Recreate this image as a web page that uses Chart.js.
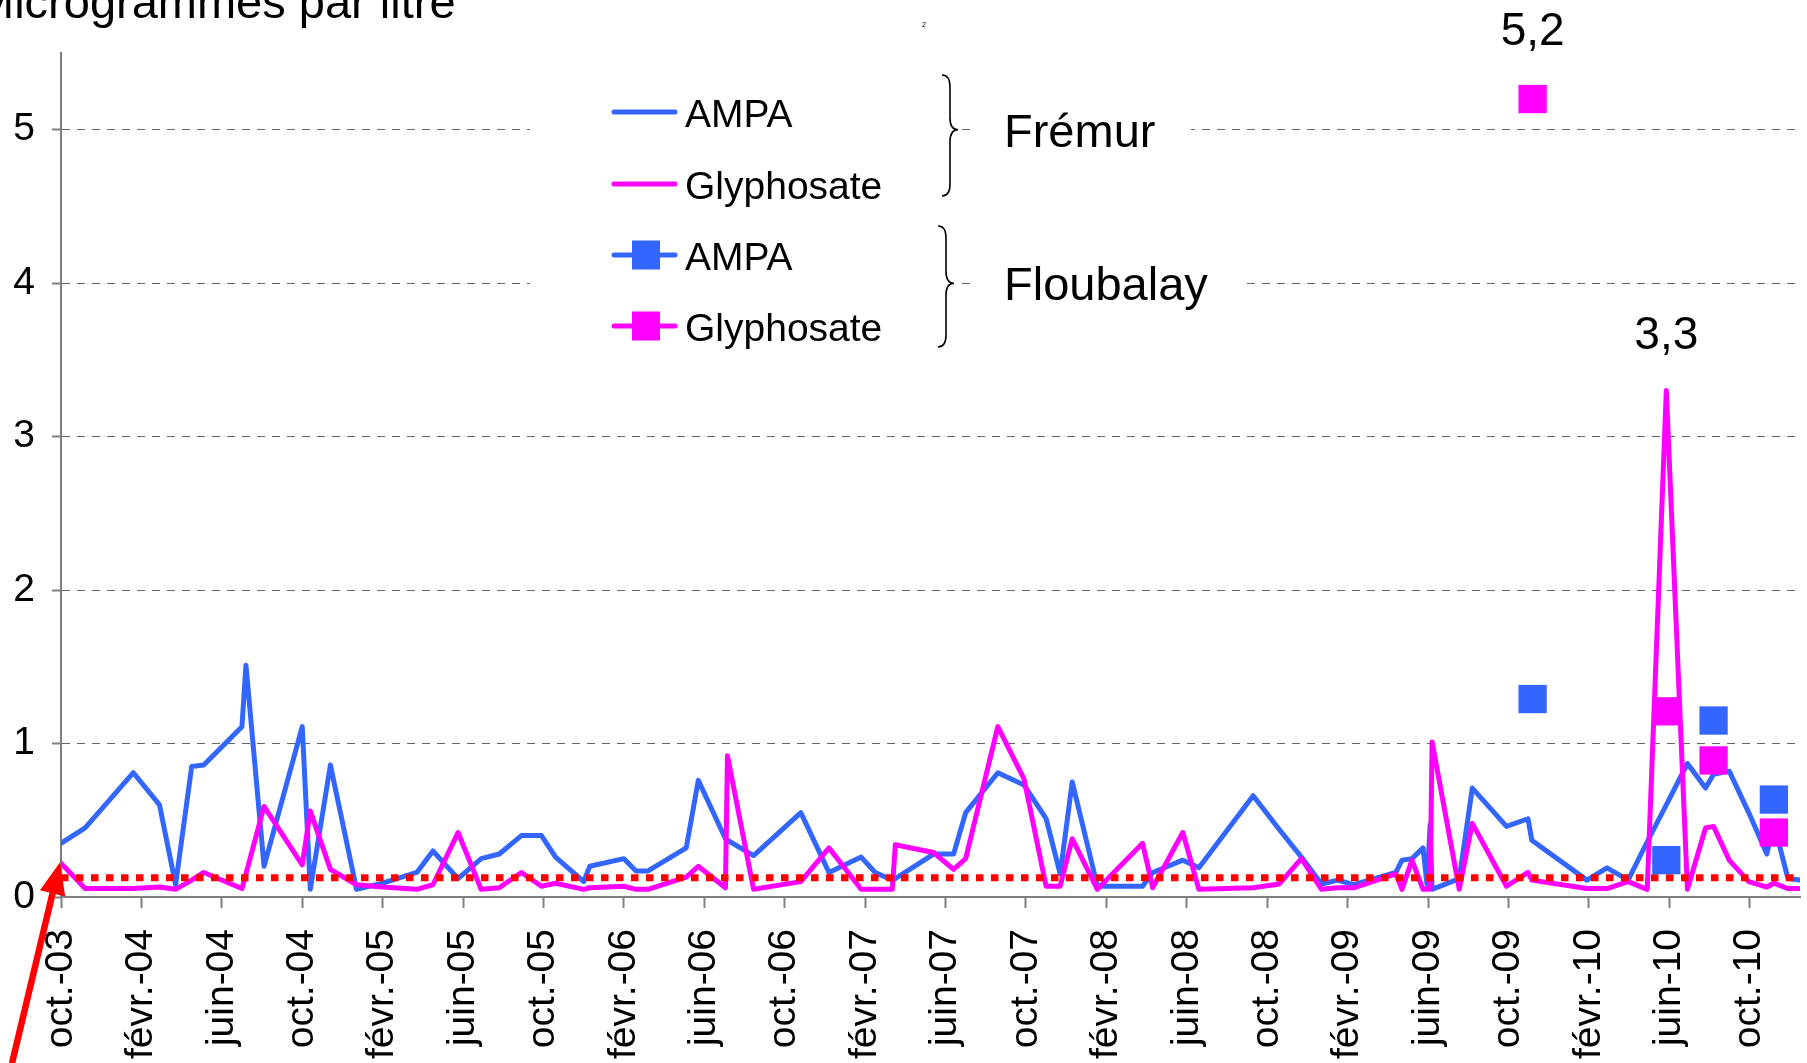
<!DOCTYPE html>
<html lang="fr">
<head>
<meta charset="UTF-8">
<title>AMPA et glyphosate - Frémur et Floubalay</title>
<script src="https://cdn.jsdelivr.net/npm/chart.js"></script>
<style>
  body { margin: 0; background: #fff; }
  canvas { display: block; }
</style>
</head>
<body>
<canvas id="graphique" width="1807" height="1063"></canvas>
<script>
// x = mois écoulés depuis le 1er octobre 2003
const tickLabels = ['oct.-03', 'févr.-04', 'juin-04', 'oct.-04', 'févr.-05', 'juin-05', 'oct.-05',
  'févr.-06', 'juin-06', 'oct.-06', 'févr.-07', 'juin-07', 'oct.-07', 'févr.-08', 'juin-08',
  'oct.-08', 'févr.-09', 'juin-09', 'oct.-09', 'févr.-10', 'juin-10', 'oct.-10'];
const yTicks = [0, 1, 2, 3, 4, 5];

const fremurMois = [0, 1.2, 3.6, 4.9, 5.7, 6.5, 7.1, 9.0, 9.2, 10.1, 12.0, 12.4, 13.4, 14.7, 16.0,
  17.7, 18.5, 19.75, 20.9, 21.8, 22.9, 23.9, 24.6, 26.0, 26.3, 28.0, 28.6, 29.2, 31.1, 31.7,
  33.05, 33.15, 34.45, 36.8, 38.2, 39.8, 40.5, 41.35, 41.5, 43.4, 44.4, 45.0, 46.6, 47.9, 49.0,
  49.7, 50.3, 51.55, 53.8, 54.3, 55.8, 56.6, 59.3, 60.6, 61.7, 62.7, 63.5, 64.3, 66.4, 66.7,
  67.2, 67.75, 67.95, 68.1, 68.2, 69.55, 70.2, 71.9, 72.97, 73.16, 75.9, 76.9, 77.95, 78.9,
  79.85, 80.9, 81.8, 82.2, 82.98, 83.95, 84.85, 85.2, 85.9, 86.5];
const fremurAmpa = [0.35, 0.45, 0.81, 0.60, 0.08, 0.85, 0.86, 1.11, 1.51, 0.20, 1.11, 0.05, 0.86, 0.05, 0.09,
  0.16, 0.30, 0.12, 0.25, 0.28, 0.40, 0.40, 0.26, 0.10, 0.20, 0.25, 0.17, 0.17, 0.32, 0.76,
  0.38, 0.37, 0.27, 0.55, 0.16, 0.26, 0.16, 0.11, 0.12, 0.28, 0.28, 0.55, 0.81, 0.73, 0.51,
  0.15, 0.75, 0.07, 0.07, 0.16, 0.24, 0.19, 0.66, 0.44, 0.26, 0.085, 0.11, 0.08, 0.16, 0.24,
  0.25, 0.32, 0.08, 0.47, 0.05, 0.12, 0.71, 0.46, 0.51, 0.37, 0.11, 0.19, 0.11, 0.36,
  0.60, 0.87, 0.71, 0.80, 0.82, 0.55, 0.28, 0.48, 0.12, 0.11];
const fremurGlyphosate = [0.22, 0.055, 0.055, 0.065, 0.05, 0.11, 0.16, 0.055, 0.15, 0.59, 0.21, 0.56, 0.18, 0.08, 0.065,
  0.05, 0.08, 0.42, 0.05, 0.06, 0.16, 0.07, 0.09, 0.05, 0.06, 0.07, 0.05, 0.05, 0.13, 0.20,
  0.06, 0.92, 0.05, 0.10, 0.32, 0.05, 0.05, 0.05, 0.34, 0.29, 0.18, 0.25, 1.11, 0.77, 0.07,
  0.07, 0.38, 0.05, 0.35, 0.06, 0.42, 0.05, 0.06, 0.085, 0.25, 0.05, 0.06, 0.06, 0.15, 0.05,
  0.24, 0.05, 0.05, 0.05, 1.01, 0.05, 0.48, 0.07, 0.16, 0.11, 0.055, 0.055, 0.10, 0.05,
  3.30, 0.05, 0.45, 0.46, 0.24, 0.10, 0.065, 0.09, 0.055, 0.055];

const floubalayMois = [73.2, 79.85, 82.2, 85.2];
const floubalayAmpa = [1.29, 0.24, 1.15, 0.635];
const floubalayGlyphosate = [5.2, 1.21, 0.89, 0.42];

const seuilMois = [0, 86.5];
const seuilValeurs = [0.125, 0.125];

const BLEU = '#3366ff';
const MAGENTA = '#ff00ff';
const ROUGE = '#ff0000';
const police = '"Liberation Sans", Arial, sans-serif';

function points(xs, ys) {
  return xs.map((x, i) => ({ x: x, y: ys[i] }));
}

function texte(ctx, t, x, y, taille, align) {
  ctx.font = taille + 'px ' + police;
  ctx.textAlign = align || 'left';
  ctx.textBaseline = 'alphabetic';
  ctx.fillStyle = '#000';
  ctx.fillText(t, x, y);
}

function accolade(ctx, x, haut, bas, pointe) {
  const w = 16, r = 12, xm = x + w / 2;
  ctx.beginPath();
  ctx.moveTo(x, haut);
  ctx.quadraticCurveTo(xm, haut, xm, haut + r);
  ctx.lineTo(xm, pointe - r);
  ctx.quadraticCurveTo(xm, pointe, x + w, pointe);
  ctx.quadraticCurveTo(xm, pointe, xm, pointe + r);
  ctx.lineTo(xm, bas - r);
  ctx.quadraticCurveTo(xm, bas, x, bas);
  ctx.stroke();
}

// légende, accolades, titre, flèche et étiquettes
const decor = {
  id: 'decor',
  beforeDatasetsDraw(chart) {
    const ctx = chart.ctx;
    const y = chart.scales.y;
    const p5 = y.getPixelForValue(5), p4 = y.getPixelForValue(4);
    ctx.save();
    // fonds blancs qui coupent le quadrillage
    ctx.fillStyle = '#fff';
    ctx.fillRect(530, 58, 425, 302);
    ctx.fillRect(976, p5 - 30, 215, 60);
    ctx.fillRect(976, p4 - 30, 269, 60);

    // lignes de légende
    const lignes = [112, 184, 255, 326];
    lignes.forEach((ly, i) => {
      const ds = chart.data.datasets[i];
      const c = ds.borderColor || ds.backgroundColor;
      ctx.strokeStyle = c;
      ctx.lineWidth = 5;
      ctx.lineCap = 'round';
      ctx.beginPath();
      ctx.moveTo(614, ly);
      ctx.lineTo(675, ly);
      ctx.stroke();
      if (ds.pointStyle === 'rect') {
        ctx.fillStyle = c;
        ctx.fillRect(632, ly - 14.5, 28, 29);
      }
      texte(ctx, ds.label, 685, ly + 15, 39);
    });

    ctx.strokeStyle = '#000';
    ctx.lineWidth = 1.6;
    ctx.lineCap = 'butt';
    accolade(ctx, 942, 75, 196, p5);
    accolade(ctx, 938, 226, 347, p4);
    texte(ctx, 'Frémur', 1004, p5 + 17, 47);
    texte(ctx, 'Floubalay', 1004, p4 + 17, 47);
    ctx.restore();
  },
  afterDraw(chart, args, opts) {
    const ctx = chart.ctx;
    ctx.save();
    texte(ctx, 'Microgrammes par litre', -25, 18, 47);
    texte(ctx, '2', 922, 27, 7);

    // valeurs remarquables
    opts.etiquettes.forEach(e => {
      const data = chart.data.datasets[e.dataset].data;
      let imax = 0;
      data.forEach((d, i) => { if (d.y > data[imax].y) imax = i; });
      const el = chart.getDatasetMeta(e.dataset).data[imax];
      texte(ctx, String(data[imax].y).replace('.', ','), el.x, el.y - e.decalage, 46, 'center');
    });

    // flèche rouge vers le premier prélèvement
    const x0 = chart.scales.x.getPixelForValue(fremurMois[0]);
    const y0 = chart.scales.y.getPixelForValue(fremurGlyphosate[0]);
    const tx = x0 - 1, ty = y0 - 1;
    const qx = tx - 48, qy = ty + 201;
    const len = Math.hypot(tx - qx, ty - qy);
    const ux = (tx - qx) / len, uy = (ty - qy) / len;
    const bx = tx - ux * 32, by = ty - uy * 32;
    ctx.strokeStyle = ROUGE;
    ctx.fillStyle = ROUGE;
    ctx.lineWidth = 6.5;
    ctx.beginPath();
    ctx.moveTo(qx, qy);
    ctx.lineTo(bx, by);
    ctx.stroke();
    ctx.beginPath();
    ctx.moveTo(tx, ty);
    ctx.lineTo(bx - uy * 13, by + ux * 13);
    ctx.lineTo(bx + uy * 13, by - ux * 13);
    ctx.closePath();
    ctx.fill();
    ctx.restore();
  }
};

new Chart(document.getElementById('graphique'), {
  type: 'line',
  data: {
    datasets: [
      { label: 'AMPA', data: points(fremurMois, fremurAmpa), borderColor: BLEU, borderWidth: 5,
        pointRadius: 0, tension: 0, borderJoinStyle: 'round', borderCapStyle: 'round', order: 4 },
      { label: 'Glyphosate', data: points(fremurMois, fremurGlyphosate), borderColor: MAGENTA, borderWidth: 5,
        pointRadius: 0, tension: 0, borderJoinStyle: 'round', borderCapStyle: 'round', order: 3 },
      { label: 'AMPA', data: points(floubalayMois, floubalayAmpa), showLine: false, pointStyle: 'rect',
        pointRadius: 20, pointBorderWidth: 0, backgroundColor: BLEU, pointBackgroundColor: BLEU, order: 1 },
      { label: 'Glyphosate', data: points(floubalayMois, floubalayGlyphosate), showLine: false, pointStyle: 'rect',
        pointRadius: 20, pointBorderWidth: 0, backgroundColor: MAGENTA, pointBackgroundColor: MAGENTA, order: 1 },
      { label: 'Seuil', data: points(seuilMois, seuilValeurs), borderColor: ROUGE, borderWidth: 7,
        borderDash: [7.5, 7.5], borderCapStyle: 'butt', pointRadius: 0, order: 2 }
    ]
  },
  options: {
    responsive: false,
    animation: false,
    devicePixelRatio: 1,
    layout: { autoPadding: false, padding: { top: 53, right: 7, left: 0, bottom: 0 } },
    plugins: {
      legend: { display: false },
      tooltip: { enabled: false },
      decor: { etiquettes: [{ dataset: 3, decalage: 54 }, { dataset: 1, decalage: 42 }] }
    },
    scales: {
      x: {
        type: 'linear',
        min: 0,
        max: 86.5,
        afterBuildTicks: s => { s.ticks = tickLabels.map((t, i) => ({ value: i * 4 })); },
        afterFit: s => { s.height = 166; s.paddingLeft = 0; s.paddingRight = 0; },
        ticks: {
          autoSkip: false,
          minRotation: 90,
          maxRotation: 90,
          padding: 21,
          color: '#000',
          font: { family: police, size: 39 },
          callback: v => tickLabels[Math.round(v / 4)]
        },
        grid: { drawOnChartArea: false, drawTicks: true, tickLength: 11, tickColor: '#7f7f7f', tickWidth: 2 },
        border: { display: true, color: '#7f7f7f', width: 2 }
      },
      y: {
        min: 0,
        max: 5.5,
        afterBuildTicks: s => { s.ticks = yTicks.map(v => ({ value: v })); },
        afterFit: s => { s.width = 61; s.paddingTop = 0; s.paddingBottom = 0; },
        ticks: {
          padding: 17,
          color: '#000',
          font: { family: police, size: 39 }
        },
        grid: {
          color: c => (c.tick && c.tick.value === 0) ? 'rgba(0,0,0,0)' : '#666',
          lineWidth: 1,
          borderDash: [8, 7],
          tickLength: 9,
          tickColor: '#7f7f7f',
          tickWidth: 2
        },
        border: { display: true, color: '#7f7f7f', width: 2, dash: [8, 7] }
      }
    }
  },
  plugins: [decor]
});
</script>
</body>
</html>
